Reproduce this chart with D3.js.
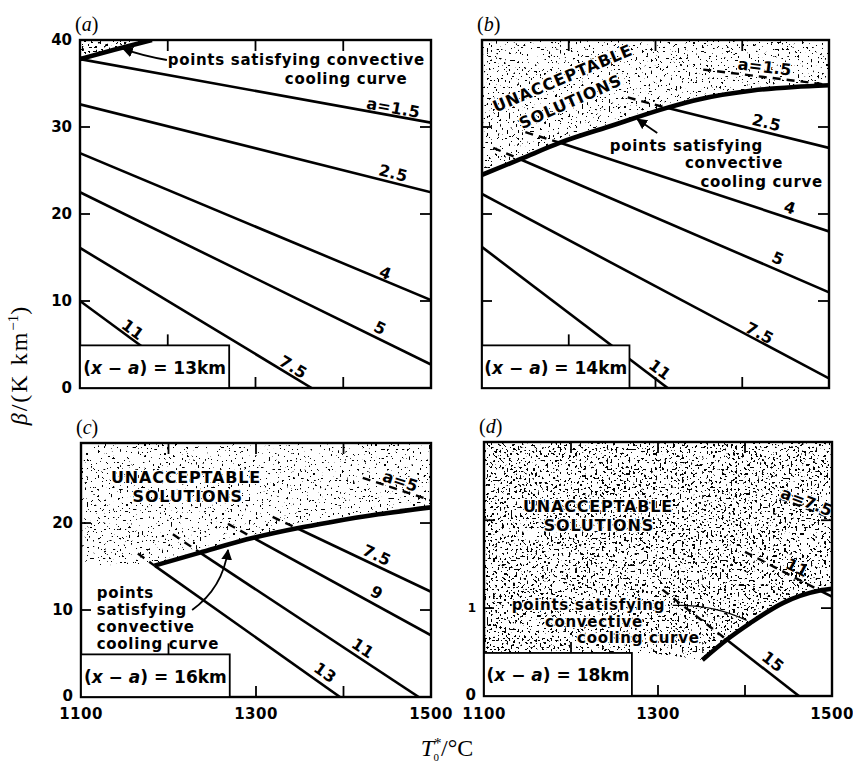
<!DOCTYPE html>
<html>
<head>
<meta charset="utf-8">
<script src="https://cdn.jsdelivr.net/npm/d3@7"></script>
<style>
body { margin: 0; background: #fff; }
text { font-family: "DejaVu Sans", sans-serif; font-weight: bold; fill: #000; }
text.serif { font-family: "Liberation Serif", "DejaVu Serif", serif; font-weight: normal; }
text.halo { stroke: #fff; stroke-width: 2.5; paint-order: stroke; stroke-linejoin: round; }
</style>
</head>
<body>
<svg id="chart" width="853" height="767"></svg>
<script>
// ***************** DATA ********************
var panelIds = ["a", "b", "c", "d"];
var separations = ["13", "14", "16", "18"];       // (x - a) in km
var tempRange = [1100, 1500];
var tempTicks = [1200, 1300, 1400];
var tempLabels = [1100, 1300, 1500];
var betaMax = [40, 40, 29.2, 28.9];
var betaTicks = [[10, 20, 30], [10, 20, 30], [10, 20], [10, 20]];
var betaLabels = [[0, 10, 20, 30, 40], [], [0, 10, 20], [0]];
var keyBox = [1270, 4.9];                          // T, beta of the key box corner

// lines of constant a: dashed part (unacceptable) and solid part, [T, beta]
var linesA = [
	{label: "a=1.5", solid: [[1100, 37.8], [1500, 30.5]], at: [1457, 32.2]},
	{label: "2.5", solid: [[1100, 32.6], [1500, 22.5]], at: [1457, 24.7]},
	{label: "4", solid: [[1100, 27.0], [1500, 10.1]], at: [1448, 13.2]},
	{label: "5", solid: [[1100, 22.5], [1500, 2.7]], at: [1442, 6.9]},
	{label: "7.5", solid: [[1100, 16.1], [1364, 0]], at: [1343, 2.4]},
	{label: "11", solid: [[1100, 10.0], [1235, 0]], at: [1160, 6.7]}
];
var linesB = [
	{label: "a=1.5", dash: [[1355, 36.6], [1495, 34.9]], at: [1426, 36.9]},
	{label: "2.5", dash: [[1268, 33.4], [1313, 32.2]], solid: [[1313, 32.2], [1500, 27.6]], at: [1428, 30.5]},
	{label: "4", dash: [[1150, 29.4], [1190, 28.2]], solid: [[1190, 28.2], [1500, 18.0]], at: [1455, 20.7]},
	{label: "5", dash: [[1113, 27.6], [1144, 26.3]], solid: [[1144, 26.3], [1500, 11.0]], at: [1441, 14.9]},
	{label: "7.5", solid: [[1100, 22.3], [1500, 1.1]], at: [1420, 6.3]},
	{label: "11", solid: [[1100, 16.2], [1314, 0]], at: [1305, 2.1]}
];
var linesC = [
	{label: "a=5", dash: [[1422, 25.2], [1500, 22.6]], at: [1465, 24.8]},
	{label: "7.5", dash: [[1319, 20.7], [1347, 19.4]], solid: [[1347, 19.4], [1500, 12.1]], at: [1438, 16.3]},
	{label: "9", dash: [[1268, 19.9], [1297, 18.3]], solid: [[1297, 18.3], [1500, 7.1]], at: [1438, 12.0]},
	{label: "11", dash: [[1205, 18.7], [1236, 16.6]], solid: [[1236, 16.6], [1486, 0]], at: [1422, 5.6]},
	{label: "13", dash: [[1165, 16.5], [1184, 15.1]], solid: [[1184, 15.1], [1396, 0]], at: [1379, 2.8]}
];
var linesD = [
	{label: "a=7.5", dash: [[1440, 22.5], [1500, 20.2]], at: [1471, 22.1]},
	{label: "11", dash: [[1400, 16.4], [1486, 12.0]], solid: [[1486, 12.0], [1500, 11.3]], at: [1460, 14.6]},
	{label: "15", dash: [[1305, 12.1], [1379, 6.4]], solid: [[1379, 6.4], [1462, 0]], at: [1432, 3.9]}
];

// convective cooling curves, [T, beta]
var curveA = [[1100, 37.8], [1140, 38.9], [1182, 40]];
var curveB = [[1100, 24.5], [1144, 26.3], [1190, 28.2], [1251, 30.2], [1313, 32.2], [1351, 33.2], [1412, 34.2], [1460, 34.6], [1500, 34.8]];
var curveC = [[1184, 15.1], [1236, 16.6], [1297, 18.3], [1347, 19.4], [1385, 20.1], [1440, 21.0], [1500, 21.8]];
var curveD = [[1351, 4.1], [1379, 6.4], [1406, 8.3], [1444, 10.6], [1486, 12.0], [1500, 12.2]];

// lower edge of the stippled zone left of the curve
var shelfA = [];
var shelfB = [];
var shelfC = [[1100, 15.2]];
var shelfD = [[1100, 4.9], [1290, 4.9], [1330, 4.4]];

var allLines = [linesA, linesB, linesC, linesD];
var allCurves = [curveA, curveB, curveC, curveD];
var allShelves = [shelfA, shelfB, shelfC, shelfD];

// ***************** LAYOUT ********************
var frames = [
	{left: 80, top: 40, right: 431, bottom: 388},
	{left: 482, top: 40, right: 829, bottom: 388},
	{left: 81, top: 443, right: 431, bottom: 697},
	{left: 484, top: 442, right: 832, bottom: 696}
];
var stippleCut = [0.6, 0.65, 0.66, 0.6];

var svg = d3.select("#chart");
var defs = svg.append("defs");

defs.append("marker")
	.attr("id", "arrow")
	.attr("viewBox", "0 0 10 10")
	.attr("refX", 9).attr("refY", 5)
	.attr("markerWidth", 6).attr("markerHeight", 6)
	.attr("orient", "auto")
	.append("path")
	.attr("d", "M0,0L10,5L0,10z")
	.attr("fill", "#000");

var addStipple = function(id, cut){
	var f = defs.append("filter")
		.attr("id", id)
		.attr("x", 0).attr("y", 0).attr("width", 1).attr("height", 1)
		.attr("color-interpolation-filters", "sRGB");
	f.append("feTurbulence")
		.attr("type", "fractalNoise")
		.attr("baseFrequency", 0.45)
		.attr("numOctaves", 1)
		.attr("seed", 4)
		.attr("result", "noise");
	f.append("feColorMatrix")
		.attr("in", "noise")
		.attr("type", "matrix")
		.attr("values", "0 0 0 0 0  0 0 0 0 0  0 0 0 0 0  40 0 0 0 " + (-40 * cut))
		.attr("result", "dots");
	f.append("feComposite")
		.attr("in", "dots").attr("in2", "SourceAlpha").attr("operator", "in");
};

// ***************** PANELS ********************
var drawPanel = function(i){
	var fr = frames[i];
	var id = panelIds[i];
	var x = d3.scaleLinear().domain(tempRange).range([fr.left, fr.right]);
	var y = d3.scaleLinear().domain([0, betaMax[i]]).range([fr.bottom, fr.top]);
	var top = betaMax[i];
	var g = svg.append("g").attr("class", "panel-" + id);

	defs.append("clipPath").attr("id", "clip-" + id)
		.append("rect")
		.attr("x", fr.left).attr("y", fr.top)
		.attr("width", fr.right - fr.left).attr("height", fr.bottom - fr.top);
	addStipple("stip-" + id, stippleCut[i]);

	var body = g.append("g").attr("clip-path", "url(#clip-" + id + ")");
	var curve = allCurves[i];
	var shelf = allShelves[i];
	var start = curve[0];
	var end = curve[curve.length - 1];

	// stippled "unacceptable" zone
	if (shelf.length) {
		var poly = [[tempRange[0], top]].concat(shelf, [start, [start[0], top]]);
		body.append("path")
			.attr("d", d3.line().x(function(d){ return x(d[0]); }).y(function(d){ return y(d[1]); })(poly) + "Z")
			.attr("fill", "#000")
			.attr("filter", "url(#stip-" + id + ")");
	}
	var area = d3.area()
		.x(function(d){ return x(d[0]); })
		.y0(y(top))
		.y1(function(d){ return y(d[1]); })
		.curve(d3.curveMonotoneX);
	body.append("path")
		.attr("d", area(curve) + "")
		.attr("fill", "#000")
		.attr("filter", "url(#stip-" + id + ")");
	if (end[0] < tempRange[1] && end[1] < top) {
		body.append("rect")
			.attr("x", x(end[0])).attr("y", y(top))
			.attr("width", x(tempRange[1]) - x(end[0])).attr("height", y(end[1]) - y(top))
			.attr("fill", "#000")
			.attr("filter", "url(#stip-" + id + ")");
	}

	var line = d3.line().x(function(d){ return x(d[0]); }).y(function(d){ return y(d[1]); });

	// lines of constant a
	var lines = allLines[i];
	body.selectAll("path.dash")
		.data(lines.filter(function(d){ return d.dash; }))
		.enter()
		.append("path")
		.classed("dash", true)
		.attr("d", function(d){ return line(d.dash); })
		.attr("fill", "none")
		.attr("stroke", "#000")
		.attr("stroke-width", 2.4)
		.attr("stroke-dasharray", "8,6");
	body.selectAll("path.solid")
		.data(lines.filter(function(d){ return d.solid; }))
		.enter()
		.append("path")
		.classed("solid", true)
		.attr("d", function(d){ return line(d.solid); })
		.attr("fill", "none")
		.attr("stroke", "#000")
		.attr("stroke-width", 2.6);

	// convective cooling curve
	body.append("path")
		.attr("d", line.curve(d3.curveMonotoneX)(curve))
		.attr("fill", "none")
		.attr("stroke", "#000")
		.attr("stroke-width", 4.6);
	line.curve(d3.curveLinear);

	// labels on the lines, turned along them
	g.selectAll("text.alabel")
		.data(lines)
		.enter()
		.append("text")
		.attr("class", function(d){ return d.solid ? "alabel" : "alabel halo"; })
		.attr("text-anchor", "middle")
		.attr("dominant-baseline", "central")
		.attr("font-size", 16)
		.attr("letter-spacing", 0.3)
		.attr("transform", function(d){
			var s = d.solid || d.dash;
			var ang = Math.atan2(y(s[1][1]) - y(s[0][1]), x(s[1][0]) - x(s[0][0])) * 180 / Math.PI;
			return "translate(" + x(d.at[0]) + "," + y(d.at[1]) + ") rotate(" + ang + ")";
		})
		.text(function(d){ return d.label; });

	// frame and inward ticks
	g.append("rect")
		.attr("x", fr.left).attr("y", fr.top)
		.attr("width", fr.right - fr.left).attr("height", fr.bottom - fr.top)
		.attr("fill", "none").attr("stroke", "#000").attr("stroke-width", 2.4);
	tempTicks.forEach(function(t){
		g.append("line").attr("x1", x(t)).attr("x2", x(t))
			.attr("y1", y(top)).attr("y2", y(top) + 11)
			.attr("stroke", "#000").attr("stroke-width", 1.8);
		var base = t < keyBox[0] ? y(keyBox[1]) : y(0);
		g.append("line").attr("x1", x(t)).attr("x2", x(t))
			.attr("y1", base).attr("y2", base - 11)
			.attr("stroke", "#000").attr("stroke-width", 1.8);
	});
	betaTicks[i].forEach(function(b){
		g.append("line").attr("x1", x(tempRange[0])).attr("x2", x(tempRange[0]) + 10)
			.attr("y1", y(b)).attr("y2", y(b))
			.attr("stroke", "#000").attr("stroke-width", 1.8);
		g.append("line").attr("x1", x(tempRange[1])).attr("x2", x(tempRange[1]) - 11)
			.attr("y1", y(b)).attr("y2", y(b))
			.attr("stroke", "#000").attr("stroke-width", 1.8);
	});

	// key box
	g.append("rect")
		.attr("x", x(tempRange[0])).attr("y", y(keyBox[1]))
		.attr("width", x(keyBox[0]) - x(tempRange[0])).attr("height", y(0) - y(keyBox[1]))
		.attr("fill", "#fff").attr("stroke", "#000").attr("stroke-width", 1.8);
	var key = g.append("text")
		.attr("x", (x(tempRange[0]) + x(keyBox[0])) / 2)
		.attr("y", (y(0) + y(keyBox[1])) / 2 + 1)
		.attr("text-anchor", "middle")
		.attr("dominant-baseline", "central")
		.attr("font-size", 17);
	key.append("tspan").text("(");
	key.append("tspan").attr("font-style", "italic").text("x");
	key.append("tspan").text(" \u2212 ");
	key.append("tspan").attr("font-style", "italic").text("a");
	key.append("tspan").text(") = " + separations[i] + "km");

	// y tick labels
	g.selectAll("text.ylab")
		.data(betaLabels[i])
		.enter()
		.append("text")
		.classed("ylab", true)
		.attr("x", fr.left - 8)
		.attr("y", function(d){ return d === 0 && i > 1 ? y(d) - 1 : y(d); })
		.attr("text-anchor", "end")
		.attr("dominant-baseline", "central")
		.attr("font-size", 15)
		.text(function(d){ return d; });

	// x tick labels only on the bottom row
	if (i > 1) {
		g.selectAll("text.xlab")
			.data(tempLabels)
			.enter()
			.append("text")
			.classed("xlab", true)
			.attr("x", function(d){ return x(d); })
			.attr("y", 719)
			.attr("text-anchor", "middle")
			.attr("font-size", 15)
			.attr("letter-spacing", 0.5)
			.text(function(d){ return d; });
	}

	// panel letter
	g.append("text")
		.attr("class", "serif")
		.attr("x", fr.left - 5)
		.attr("y", fr.top - 9)
		.attr("font-size", 20)
		.html("(<tspan font-style='italic'>" + id + "</tspan>)");

	return {g: g, x: x, y: y};
};

var panels = panelIds.map(function(id, i){ return drawPanel(i); });

// ***************** ANNOTATIONS ********************
var pt = function(p, d){ return [p.x(d[0]), p.y(d[1])]; };

var writeLines = function(p, rows, anchor, halo){
	rows.forEach(function(r){
		var q = pt(p, r.at);
		p.g.append("text")
			.attr("class", halo ? "halo" : null)
			.attr("x", q[0]).attr("y", q[1])
			.attr("text-anchor", anchor)
			.attr("dominant-baseline", "central")
			.attr("font-size", 15)
			.attr("letter-spacing", 0.7)
			.text(r.text);
	});
};

var arrow = function(p, from, ctrl, to, head){
	var a = pt(p, from), c = pt(p, ctrl), b = pt(p, to);
	p.g.append("path")
		.attr("d", "M" + a + "Q" + c + " " + b)
		.attr("fill", "none")
		.attr("stroke", "#000")
		.attr("stroke-width", head ? 1.8 : 1.2)
		.attr("marker-end", head ? "url(#arrow)" : null);
};

var unacc = function(p, rows){
	rows.forEach(function(r){
		var q = pt(p, r.at);
		p.g.append("text")
			.attr("class", "halo")
			.attr("transform", "translate(" + q + ") rotate(" + r.rot + ")")
			.attr("text-anchor", "middle")
			.attr("dominant-baseline", "central")
			.attr("font-size", 16)
			.attr("letter-spacing", 0.8)
			.text(r.text);
	});
};

// (a)
writeLines(panels[0], [
	{text: "points satisfying convective", at: [1493, 37.7]},
	{text: "cooling curve", at: [1473, 35.5]}
], "end", false);
arrow(panels[0], [1199, 37.7], [1170, 38.2], [1149, 39.0], true);

// (b)
unacc(panels[1], [
	{text: "UNACCEPTABLE", at: [1193, 35.6], rot: -23},
	{text: "SOLUTIONS", at: [1202, 32.9], rot: -24}
]);
writeLines(panels[1], [
	{text: "points satisfying", at: [1424, 27.8]},
	{text: "convective", at: [1447, 25.9]},
	{text: "cooling curve", at: [1493, 23.7]}
], "end", false);
arrow(panels[1], [1302, 29.3], [1292, 30.0], [1279, 30.9], true);

// (c)
unacc(panels[2], [
	{text: "UNACCEPTABLE", at: [1220, 25.2], rot: 0},
	{text: "SOLUTIONS", at: [1222, 23.0], rot: 0}
]);
writeLines(panels[2], [
	{text: "points", at: [1118, 11.95]},
	{text: "satisfying", at: [1118, 10.0]},
	{text: "convective", at: [1118, 8.05]},
	{text: "cooling curve", at: [1118, 6.1]}
], "start", false);
arrow(panels[2], [1227, 10.0], [1262, 12.5], [1268, 16.9], true);

// (d)
unacc(panels[3], [
	{text: "UNACCEPTABLE", at: [1231, 21.6], rot: 0},
	{text: "SOLUTIONS", at: [1232, 19.4], rot: 0}
]);
writeLines(panels[3], [
	{text: "points satisfying", at: [1132, 10.3]},
	{text: "convective", at: [1170, 8.45]},
	{text: "cooling curve", at: [1207, 6.6]}
], "start", true);
arrow(panels[3], [1317, 10.3], [1362, 10.5], [1402, 8.6], false);
panels[3].g.append("text")
	.attr("x", 472).attr("y", panels[3].y(10))
	.attr("text-anchor", "middle")
	.attr("dominant-baseline", "central")
	.attr("font-size", 12)
	.attr("font-weight", "normal")
	.attr("fill", "#444")
	.text("1");

// ***************** AXIS TITLES ********************
var xt = svg.append("text")
	.attr("class", "serif")
	.attr("x", 447).attr("y", 756)
	.attr("text-anchor", "middle")
	.attr("font-size", 24);
xt.append("tspan").attr("font-style", "italic").text("T");
xt.append("tspan").attr("dy", -8).attr("font-size", 15).text("*");
xt.append("tspan").attr("dx", -8).attr("dy", 13).attr("font-size", 11).text("0");
xt.append("tspan").attr("dx", 2).attr("dy", -5).text("/\u00b0C");

var yt = svg.append("text")
	.attr("class", "serif")
	.attr("transform", "translate(27,365) rotate(-90)")
	.attr("text-anchor", "middle")
	.attr("font-size", 24)
	.attr("letter-spacing", 2);
yt.append("tspan").attr("font-style", "italic").text("\u03b2");
yt.append("tspan").text("/(K km");
yt.append("tspan").attr("dy", -9).attr("font-size", 15).attr("letter-spacing", 0).text("\u22121");
yt.append("tspan").attr("dy", 9).text(")");
</script>
</body>
</html>
